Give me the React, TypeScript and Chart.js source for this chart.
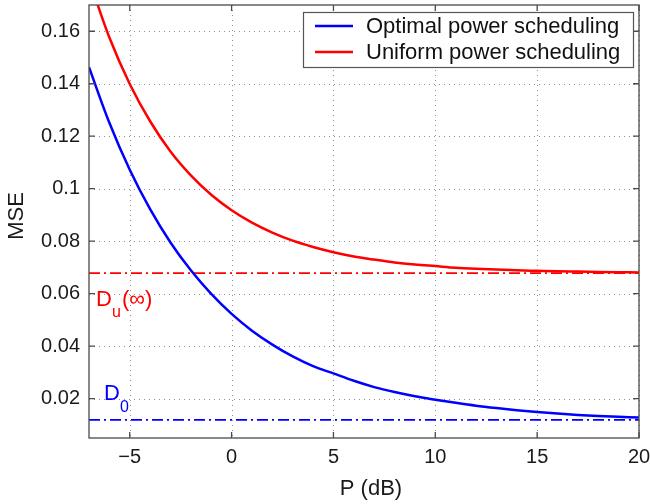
import React, { useEffect, useRef } from "react";
import { Chart, registerables } from "chart.js";

Chart.register(...registerables);

const pValues = [-7, -6, -5, -4, -3, -2, -1, 0, 1, 2, 3, 4, 5, 6, 7, 8, 9, 10, 11, 12, 13, 14, 15, 16, 17, 18, 19, 20];
const optimalMSE = [0.1463, 0.1251, 0.1072, 0.0922, 0.0795, 0.0689, 0.0599, 0.0523, 0.0459, 0.0406, 0.0361, 0.0324, 0.0296, 0.0268, 0.0244, 0.0225, 0.0209, 0.0196, 0.0184, 0.0173, 0.0164, 0.0156, 0.0149, 0.0143, 0.0138, 0.0134, 0.0131, 0.0128];
const uniformMSE = [0.1797, 0.1576, 0.1399, 0.1257, 0.1142, 0.1051, 0.0977, 0.0918, 0.0871, 0.0833, 0.0802, 0.0778, 0.0758, 0.0742, 0.073, 0.0719, 0.0711, 0.0705, 0.0699, 0.0695, 0.0692, 0.0689, 0.0687, 0.0685, 0.0684, 0.0683, 0.0682, 0.0681];
const duInfinity = 0.0678;
const dZero = 0.0119;
const xRange = [-7, 20];
const yRange = [0.005, 0.17];
const xTicks = [-5, 0, 5, 10, 15, 20];
const yTicks = [0.02, 0.04, 0.06, 0.08, 0.1, 0.12, 0.14, 0.16];
const seriesNames = ["Optimal power scheduling", "Uniform power scheduling"];
const xTitle = "P (dB)";
const yTitle = "MSE";

const BLUE = "#0000ff";
const RED = "#ff0000";
const FONT = '"Liberation Sans", Arial, sans-serif';

const toPoints = (ys: number[]) => pValues.map((x, i) => ({ x, y: ys[i] }));

const framePlugin = {
  id: "frame",
  beforeDatasetsDraw(chart: any) {
    const { ctx, chartArea, scales } = chart;
    const { left, right, top, bottom } = chartArea;
    ctx.save();
    ctx.strokeStyle = "#8f8f8f";
    ctx.lineWidth = 1;
    ctx.setLineDash([1, 4]);
    for (const v of xTicks) {
      const px = Math.round(scales.x.getPixelForValue(v)) + 0.5;
      ctx.beginPath();
      ctx.moveTo(px, top);
      ctx.lineTo(px, bottom);
      ctx.stroke();
    }
    for (const v of yTicks) {
      const py = Math.round(scales.y.getPixelForValue(v)) + 0.5;
      ctx.beginPath();
      ctx.moveTo(left, py);
      ctx.lineTo(right, py);
      ctx.stroke();
    }
    ctx.restore();
  },
  afterDatasetsDraw(chart: any) {
    const { ctx, chartArea, scales } = chart;
    const { left, right, top, bottom } = chartArea;
    ctx.save();
    // frame
    ctx.strokeStyle = "#4a4a4a";
    ctx.lineWidth = 1.3;
    ctx.setLineDash([]);
    ctx.strokeRect(left, top, right - left, bottom - top);
    // inward ticks
    const tl = 6;
    ctx.beginPath();
    for (const v of xTicks) {
      const px = scales.x.getPixelForValue(v);
      ctx.moveTo(px, bottom);
      ctx.lineTo(px, bottom - tl);
      ctx.moveTo(px, top);
      ctx.lineTo(px, top + tl);
    }
    for (const v of yTicks) {
      const py = scales.y.getPixelForValue(v);
      ctx.moveTo(left, py);
      ctx.lineTo(left + tl, py);
      ctx.moveTo(right, py);
      ctx.lineTo(right - tl, py);
    }
    ctx.stroke();

    // annotations
    ctx.fillStyle = RED;
    ctx.textBaseline = "alphabetic";
    ctx.textAlign = "left";
    ctx.font = `22px ${FONT}`;
    ctx.fillText("D", 96, 306);
    ctx.font = `16px ${FONT}`;
    ctx.fillText("u", 112, 317);
    ctx.font = `22px ${FONT}`;
    ctx.fillText("(\u221e)", 122, 306);

    ctx.fillStyle = BLUE;
    ctx.font = `22px ${FONT}`;
    ctx.fillText("D", 104, 400);
    ctx.font = `16px ${FONT}`;
    ctx.fillText("0", 120, 412);

    // axis titles
    ctx.fillStyle = "#1a1a1a";
    ctx.font = `22px ${FONT}`;
    ctx.textAlign = "center";
    ctx.textBaseline = "middle";
    ctx.fillText(xTitle, 371, 489);
    ctx.save();
    ctx.translate(17, 216);
    ctx.rotate(-Math.PI / 2);
    ctx.fillText(yTitle, 0, 0);
    ctx.restore();

    // legend
    const lx = 303, ly = 12, lw = 330, lh = 55;
    ctx.fillStyle = "#ffffff";
    ctx.fillRect(lx, ly, lw, lh);
    ctx.strokeStyle = "#555555";
    ctx.lineWidth = 1.2;
    ctx.strokeRect(lx + 0.5, ly + 0.5, lw, lh);
    const colors = [BLUE, RED];
    const rows = [26, 52];
    ctx.textAlign = "left";
    ctx.textBaseline = "middle";
    ctx.font = `22px ${FONT}`;
    seriesNames.forEach((name, i) => {
      ctx.strokeStyle = colors[i];
      ctx.lineWidth = 2.5;
      ctx.beginPath();
      ctx.moveTo(315, rows[i]);
      ctx.lineTo(353, rows[i]);
      ctx.stroke();
      ctx.fillStyle = "#111111";
      ctx.fillText(name, 366, rows[i] + 1);
    });
    ctx.restore();
  },
};

export default function App() {
  const ref = useRef<HTMLCanvasElement | null>(null);
  useEffect(() => {
    if (!ref.current) return;
    const chart = new Chart(ref.current, {
      type: "line",
      data: {
        datasets: [
          {
            label: seriesNames[0],
            data: toPoints(optimalMSE),
            borderColor: BLUE,
            borderWidth: 2.5,
            pointRadius: 0,
            cubicInterpolationMode: "monotone",
            fill: false,
          },
          {
            label: seriesNames[1],
            data: toPoints(uniformMSE),
            borderColor: RED,
            borderWidth: 2.5,
            pointRadius: 0,
            cubicInterpolationMode: "monotone",
            fill: false,
          },
          {
            label: "Du",
            data: [
              { x: xRange[0], y: duInfinity },
              { x: xRange[1], y: duInfinity },
            ],
            borderColor: RED,
            borderWidth: 1.8,
            borderDash: [11, 4, 2, 4],
            pointRadius: 0,
            fill: false,
          },
          {
            label: "D0",
            data: [
              { x: xRange[0], y: dZero },
              { x: xRange[1], y: dZero },
            ],
            borderColor: BLUE,
            borderWidth: 1.8,
            borderDash: [11, 4, 2, 4],
            pointRadius: 0,
            fill: false,
          },
        ],
      },
      options: {
        responsive: false,
        animation: false,
        layout: { padding: { top: 5, right: 11, left: 0, bottom: 0 } },
        plugins: { legend: { display: false }, tooltip: { enabled: false } },
        scales: {
          x: {
            type: "linear",
            min: xRange[0],
            max: xRange[1],
            afterBuildTicks: (s: any) => {
              s.ticks = xTicks.map((value) => ({ value }));
            },
            afterFit: (s: any) => {
              s.height = 66;
              s.paddingLeft = 0;
              s.paddingRight = 0;
            },
            grid: { display: false, drawTicks: false },
            border: { display: false },
            ticks: {
              padding: 7,
              color: "#1a1a1a",
              font: { family: FONT, size: 20 },
              callback: (v: any) => (Number(v) < 0 ? "\u2212" + Math.abs(Number(v)) : String(v)),
              maxRotation: 0,
            },
          },
          y: {
            type: "linear",
            min: yRange[0],
            max: yRange[1],
            afterBuildTicks: (s: any) => {
              s.ticks = yTicks.map((value) => ({ value }));
            },
            afterFit: (s: any) => {
              s.width = 89;
              s.paddingTop = 0;
              s.paddingBottom = 0;
            },
            grid: { display: false, drawTicks: false },
            border: { display: false },
            ticks: {
              padding: 9,
              color: "#1a1a1a",
              font: { family: FONT, size: 20 },
              callback: (v: any) => String(Number(Number(v).toFixed(2))),
            },
          },
        },
      },
      plugins: [framePlugin],
    } as any);
    return () => chart.destroy();
  }, []);
  return (
    <canvas
      ref={ref}
      width={650}
      height={504}
      style={{ position: "absolute", left: 0, top: 0, width: 650, height: 504 }}
    />
  );
}
